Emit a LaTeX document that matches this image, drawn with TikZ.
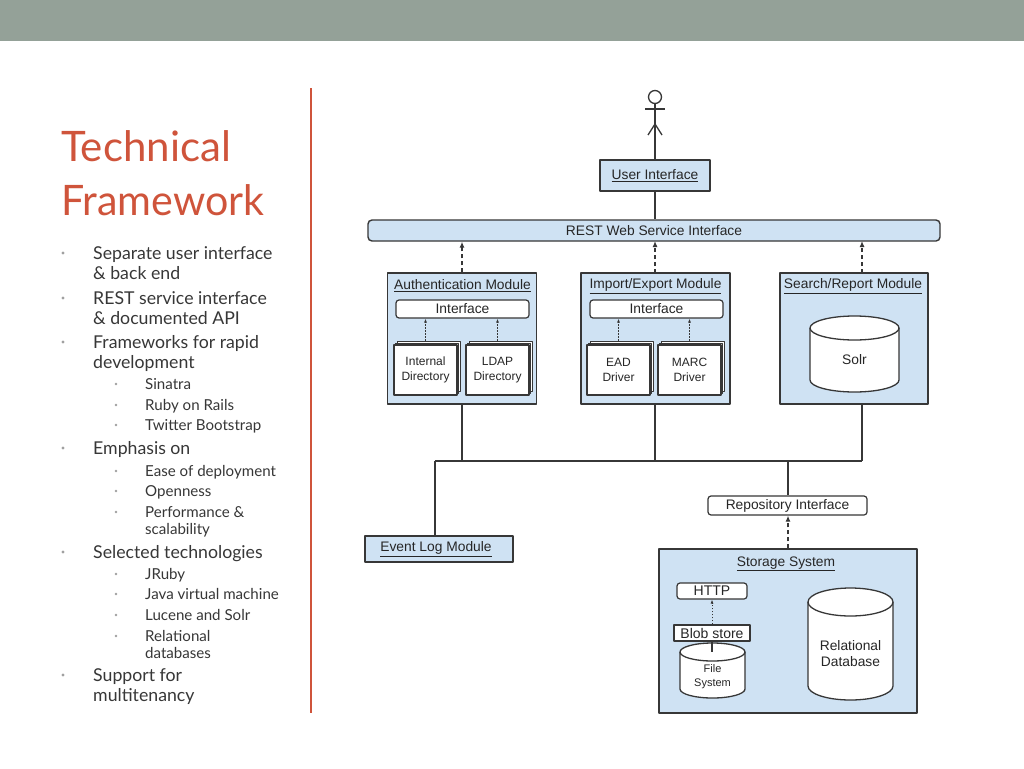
\documentclass[tikz,border=0pt]{standalone}
\usepackage{fontspec}
\setmainfont{Liberation Sans}
\newfontfamily\slidefont{Lato}
\usetikzlibrary{arrows.meta,shadows}
\definecolor{bargray}{RGB}{148,161,152}
\definecolor{slidered}{RGB}{207,84,59}
\definecolor{boxblue}{RGB}{207,226,243}
\definecolor{edgec}{RGB}{55,55,55}
\definecolor{bodytext}{RGB}{55,55,55}
\definecolor{dotgray}{RGB}{160,160,160}
\begin{document}
\begin{tikzpicture}[x=1pt,y=-1pt,line join=round,
  box/.style={draw=edgec, line width=1.4pt, fill=boxblue, inner sep=0pt},
  wbox/.style={draw=edgec, line width=1.2pt, fill=white, rounded corners=3pt, inner sep=0pt},
  sbox/.style={draw=edgec, line width=1.2pt, fill=white, inner sep=0pt},
  stackbox/.style={draw=edgec, line width=1.2pt, fill=white, inner sep=0pt, align=center,
     minimum width=63pt, minimum height=50pt, font=\fontsize{12}{14.5}\selectfont, text=black!85,
     double copy shadow={shadow xshift=1.8pt, shadow yshift=1.8pt, fill=white, draw=edgec, line width=1pt}},
  conn/.style={draw=edgec, line width=1.4pt},
  dasharr/.style={draw=edgec, line width=1.3pt, dash pattern=on 4pt off 3pt, -{Latex[length=6pt,width=5pt]}},
  dotarr/.style={draw=edgec, line width=0.9pt, dash pattern=on 1.5pt off 1.5pt, -{Latex[length=4pt,width=3pt]}},
  lbl/.style={font=\fontsize{13.8}{15}\selectfont, text=black!85, inner sep=0pt},
  mainitem/.style={anchor=base west, inner sep=0pt, text=bodytext, font=\slidefont\fontsize{17.7}{20}\selectfont},
  subitem/.style={anchor=base west, inner sep=0pt, text=bodytext, font=\slidefont\fontsize{15.1}{17}\selectfont},
  titletext/.style={anchor=base west, inner sep=0pt, text=slidered, font=\slidefont\fontsize{42}{48}\selectfont},
  bul/.style={fill=dotgray, draw=none},
]
\useasboundingbox (0,0) rectangle (1024,768);
\fill[white] (0,0) rectangle (1024,768);
\fill[bargray] (0,0) rectangle (1024,41);
\draw[slidered, line width=2pt] (311,88) -- (311,713);

% title
\node[titletext] (t1) at (61,161) {Technical};
\node[titletext, xscale=0.98, transform shape] (t2) at (61,215) {Framework};

% bullets
\foreach \yy in {253,298,342,448,552,675} \fill[bul] (63,\yy) circle[radius=1.6pt];
\foreach \yy in {384,405,425,471,491,512,574,594,615,636} \fill[bul] (116,\yy) circle[radius=1.4pt];
\node[mainitem] (b1) at (93,259) {Separate user interface};
\node[mainitem] (b1b) at (93,279) {\& back end};
\node[mainitem] (b2) at (93,304) {REST service interface};
\node[mainitem] (b2b) at (93,324) {\& documented API};
\node[mainitem] (b3) at (93,348) {Frameworks for rapid};
\node[mainitem] (b3b) at (93,368) {development};
\node[subitem] (s1) at (145,389) {Sinatra};
\node[subitem] (s2) at (145,410) {Ruby on Rails};
\node[subitem] (s3) at (145,430) {Twitter Bootstrap};
\node[mainitem] (b4) at (93,454) {Emphasis on};
\node[subitem] (s4) at (145,476) {Ease of deployment};
\node[subitem] (s5) at (145,496) {Openness};
\node[subitem] (s6) at (145,517) {Performance \&};
\node[subitem] (s6b) at (145,534) {scalability};
\node[mainitem] (b5) at (93,558) {Selected technologies};
\node[subitem] (s7) at (145,579) {JRuby};
\node[subitem] (s8) at (145,599) {Java virtual machine};
\node[subitem] (s9) at (145,620) {Lucene and Solr};
\node[subitem] (s10) at (145,641) {Relational};
\node[subitem] (s10b) at (145,658) {databases};
\node[mainitem] (b6) at (93,681) {Support for};
\node[mainitem] (b6b) at (93,701) {multitenancy};

% ---------- diagram ----------
% actor
\draw[edgec, line width=1.3pt] (655,97) circle[radius=6.5pt];
\draw[edgec, line width=1.3pt] (655,103.5) -- (655,124);
\draw[edgec, line width=1.3pt] (645,109) -- (665,109);
\draw[edgec, line width=1.3pt] (648,135) -- (655,124) -- (662,135);
\coordinate (actor) at (655,124);

\node[box, minimum width=110pt, minimum height=31pt, lbl] (ui) at (655,175.5) {\underline{User Interface}};
\node[box, rounded corners=4pt, minimum width=572pt, minimum height=21pt, lbl] (rest) at (654,230.5) {REST Web Service Interface};
\draw[conn] (ui.north) -- (actor);
\draw[conn] (ui.south) -- (rest.north -| ui.south);

% modules
\node[box, minimum width=149pt, minimum height=131pt] (auth) at (462,338.5) {};
\node[box, minimum width=149pt, minimum height=131pt] (imp) at (655.5,338.5) {};
\node[box, minimum width=148pt, minimum height=131pt] (srch) at (854,338.5) {};
\node[lbl] (authT) at (462.5,286) {\underline{Authentication Module}};
\node[lbl] (impT) at (655.5,286) {\underline{Import/Export Module}};
\node[lbl] (srchT) at (853,286) {\underline{Search/Report Module}};

\node[wbox, minimum width=133pt, minimum height=18pt, lbl] (aint) at (462.5,309) {Interface};
\node[wbox, minimum width=133pt, minimum height=18pt, lbl] (iint) at (656.5,309) {Interface};

\node[stackbox] (intdir) at (425.5,370) {Internal\\Directory};
\node[stackbox] (ldap) at (497.5,370) {LDAP\\Directory};
\node[stackbox] (ead) at (618.5,370) {EAD\\Driver};
\node[stackbox] (marc) at (689.5,370) {MARC\\Driver};
\draw[dotarr] ([yshift=3.6pt]intdir.north) -- (intdir.north |- aint.south);
\draw[dotarr] ([yshift=3.6pt]ldap.north) -- (ldap.north |- aint.south);
\draw[dotarr] ([yshift=3.6pt]ead.north) -- (ead.north |- iint.south);
\draw[dotarr] ([yshift=3.6pt]marc.north) -- (marc.north |- iint.south);

% Solr cylinder
\draw[edgec, line width=1.3pt, fill=white] (810,328) -- (810,380) arc[start angle=180, end angle=360, x radius=44.5pt, y radius=12pt] -- (899,328) arc[start angle=0, end angle=180, x radius=44.5pt, y radius=12pt] -- cycle;
\draw[edgec, line width=1.3pt] (810,328) arc[start angle=180, end angle=360, x radius=44.5pt, y radius=12pt];
\node[lbl] (solr) at (854.5,360) {Solr};

% dashed arrows to REST
\draw[dasharr] (auth.north) -- (auth.north |- rest.south);
\draw[dasharr] (655,273) -- (655,241);
\draw[dasharr] (862,273) -- (862,241);

% bus
\coordinate (busL) at (435,461);
\coordinate (busR) at (862,461);
\coordinate (busS) at (788,461);
\draw[conn] (auth.south) -- (auth.south |- busL);
\draw[conn] (655,404) -- (655,461);
\draw[conn] (862,404) -- (busR);
\draw[conn] (busL) -- (busR);

\node[box, minimum width=148pt, minimum height=26pt, lbl] (evt) at (439,549) {\underline{Event Log Module}\hspace*{6pt}};
\draw[conn] (busL) -- (busL |- evt.north);

\node[wbox, minimum width=159pt, minimum height=19pt, lbl] (repo) at (787.5,505.5) {Repository Interface};
\draw[conn] (busS) -- (busS |- repo.north);

% storage
\node[box, minimum width=258pt, minimum height=164pt] (stor) at (788,631) {};
\node[lbl] (storT) at (786,564) {\underline{Storage System}};
\draw[dasharr] (stor.north -| busS) -- (busS |- repo.south);

\node[wbox, minimum width=70pt, minimum height=16pt, lbl, font=\fontsize{14}{15}\selectfont] (http) at (712,591) {HTTP};
\node[sbox, minimum width=76pt, minimum height=16pt, lbl, font=\fontsize{14}{15}\selectfont] (blob) at (712,633) {Blob store};
\draw[dotarr] (blob.north) -- (http.south);

% File system cylinder
\draw[edgec, line width=1.3pt, fill=white] (680,652) -- (680,689) arc[start angle=180, end angle=360, x radius=32.5pt, y radius=9pt] -- (745,652) arc[start angle=0, end angle=180, x radius=32.5pt, y radius=9pt] -- cycle;
\draw[edgec, line width=1.3pt] (680,652) arc[start angle=180, end angle=360, x radius=32.5pt, y radius=9pt];
\node[lbl, align=center, font=\fontsize{11}{14}\selectfont] (fs) at (712.5,677) {File\\System};
\coordinate (fstop) at (712,652);
\draw[edgec, line width=1.4pt] (blob.south) -- (fstop);

% Relational database cylinder
\draw[edgec, line width=1.3pt, fill=white] (808,602) -- (808,686) arc[start angle=180, end angle=360, x radius=42.5pt, y radius=14pt] -- (893,602) arc[start angle=0, end angle=180, x radius=42.5pt, y radius=14pt] -- cycle;
\draw[edgec, line width=1.3pt] (808,602) arc[start angle=180, end angle=360, x radius=42.5pt, y radius=14pt];
\node[lbl, align=center, font=\fontsize{13.8}{16}\selectfont] (rdb) at (850.5,654) {Relational\\Database};
\end{tikzpicture}
\end{document}
